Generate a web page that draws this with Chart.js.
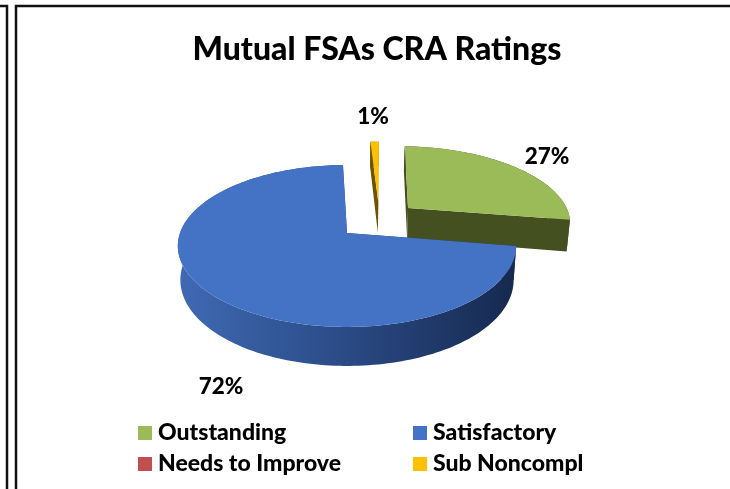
<!DOCTYPE html>
<html><head><meta charset="utf-8">
<style>html,body{margin:0;padding:0;background:#fff}#w{width:730px;height:489px}</style>
<script src="https://cdn.jsdelivr.net/npm/chart.js@4"></script></head>
<body><div id="w"><canvas id="c" width="730" height="489"></canvas></div>
<script>
const chartTitle = 'Mutual FSAs CRA Ratings';
const categories = ['Outstanding','Satisfactory','Needs to Improve','Sub Noncompl'];
const shares = [27,72,0,1];
const shareLabels = ['27%','72%','','1%'];
const sliceColors = ['#9bbb59','#4472c4','#c0504d','#ffc000'];
const wallColors = ['#44501f','#2a4a85','#6b2c2a','#6e5300'];

// layout and style
const FONT = 'Lato, Carlito, sans-serif';
const K = 0.16, A_RATIO = 0.4725, PIE_SHIFT = -30;
const explode = [[0.385,-0.334],[0,0],[0,0],[0.2,-0.42]];
const labelAnchors = [[547,157],[221,387],null,[373,117]];

function project(el,u,v){
  const w = 1-K*v, R = el.outerRadius;
  return {x: el.x+R*u/w, y: el.y+R*A_RATIO*v/w, v};
}
function facePts(el,i,steps){
  const [ou,ov] = explode[i], p=[];
  const n = Math.max(2,Math.ceil((el.endAngle-el.startAngle)*steps));
  for(let k=0;k<=n;k++){
    const a = el.startAngle+(el.endAngle-el.startAngle)*k/n;
    p.push(project(el,ou+Math.cos(a),ov+Math.sin(a)));
  }
  return {rim:p, apex:project(el,ou,ov)};
}
function lower(el,p){
  const d = 33+6*p.v;
  return {x: el.x+(p.x-el.x)*0.985, y: p.y+d};
}
const pie3d = {
  id:'pie3d',
  beforeDraw(chart){
    const c = chart.ctx;
    c.save();
    c.fillStyle='#fff'; c.fillRect(0,0,chart.width,chart.height);
    c.strokeStyle='#111'; c.lineWidth=2.5;
    c.beginPath();
    c.moveTo(0,6); c.lineTo(7,6); c.lineTo(7,489);
    c.moveTo(16,489); c.lineTo(16,6); c.lineTo(730,6);
    c.stroke();
    c.restore();
  },
  beforeDatasetDraw(chart,args){
    const c = chart.ctx, els = args.meta.data;
    c.save();
    const faces = els.map((el,i)=>{
      const q = {...el.getProps(['x','y','startAngle','endAngle','outerRadius'],true)};
      q.x += PIE_SHIFT;
      return {q,i,...facePts(q,i,40)};
    }).filter(f=>shares[f.i]>0);
    // walls
    faces.forEach(f=>{
      const {q,i,rim,apex} = f;
      const strip=(pts)=>{
        c.beginPath();
        pts.forEach((p,k)=>k?c.lineTo(p.x,p.y):c.moveTo(p.x,p.y));
        for(let k=pts.length-1;k>=0;k--){const b=lower(q,pts[k]);c.lineTo(b.x,b.y);}
        c.closePath(); c.fill();
      };
      if(i===1){
        const g=c.createLinearGradient(178,0,515,0);
        g.addColorStop(0,'#3f6ab4');g.addColorStop(0.5,'#2a4a85');g.addColorStop(1,'#16294f');
        c.fillStyle=g;
      } else c.fillStyle=wallColors[i];
      strip([apex,rim[0]]);
      strip([apex,rim[rim.length-1]]);
      strip(rim);
    });
    // top faces
    faces.forEach(f=>{
      c.beginPath();
      c.moveTo(f.apex.x,f.apex.y);
      f.rim.forEach(p=>c.lineTo(p.x,p.y));
      c.closePath();
      c.fillStyle=sliceColors[f.i];
      c.fill();
    });
    c.restore();
    return false;
  },
  afterDraw(chart){
    const c = chart.ctx;
    c.save();
    // data labels
    c.font='900 22.5px '+FONT; c.fillStyle='#000'; c.textAlign='center'; c.textBaseline='middle';
    shareLabels.forEach((t,i)=>{
      if(!t) return;
      const a = labelAnchors[i];
      c.fillText(t,a[0],a[1]);
    });
    // legend
    const cols=[138,413], rows=[433,464];
    c.font='900 23px '+FONT; c.textAlign='left';
    categories.forEach((t,i)=>{
      const x=cols[i%2], y=rows[i>>1];
      c.fillStyle=sliceColors[i];
      c.fillRect(x,y-7,14,14);
      c.fillStyle='#000';
      c.fillText(t,x+20,y);
    });
    c.restore();
  }
};
new Chart(document.getElementById('c'),{
  type:'pie',
  data:{labels:categories,datasets:[{data:shares,backgroundColor:sliceColors,borderWidth:0}]},
  plugins:[pie3d],
  options:{
    responsive:false,animation:false,rotation:2,
    layout:{padding:{left:24,right:0,top:34,bottom:89}},
    plugins:{
      legend:{display:false},tooltip:{enabled:false},
      title:{display:true,text:chartTitle,color:'#000',
        font:{family:FONT,size:32,weight:'900',lineHeight:1},
        padding:{top:0,bottom:0}}
    }
  }
});
</script></body></html>
